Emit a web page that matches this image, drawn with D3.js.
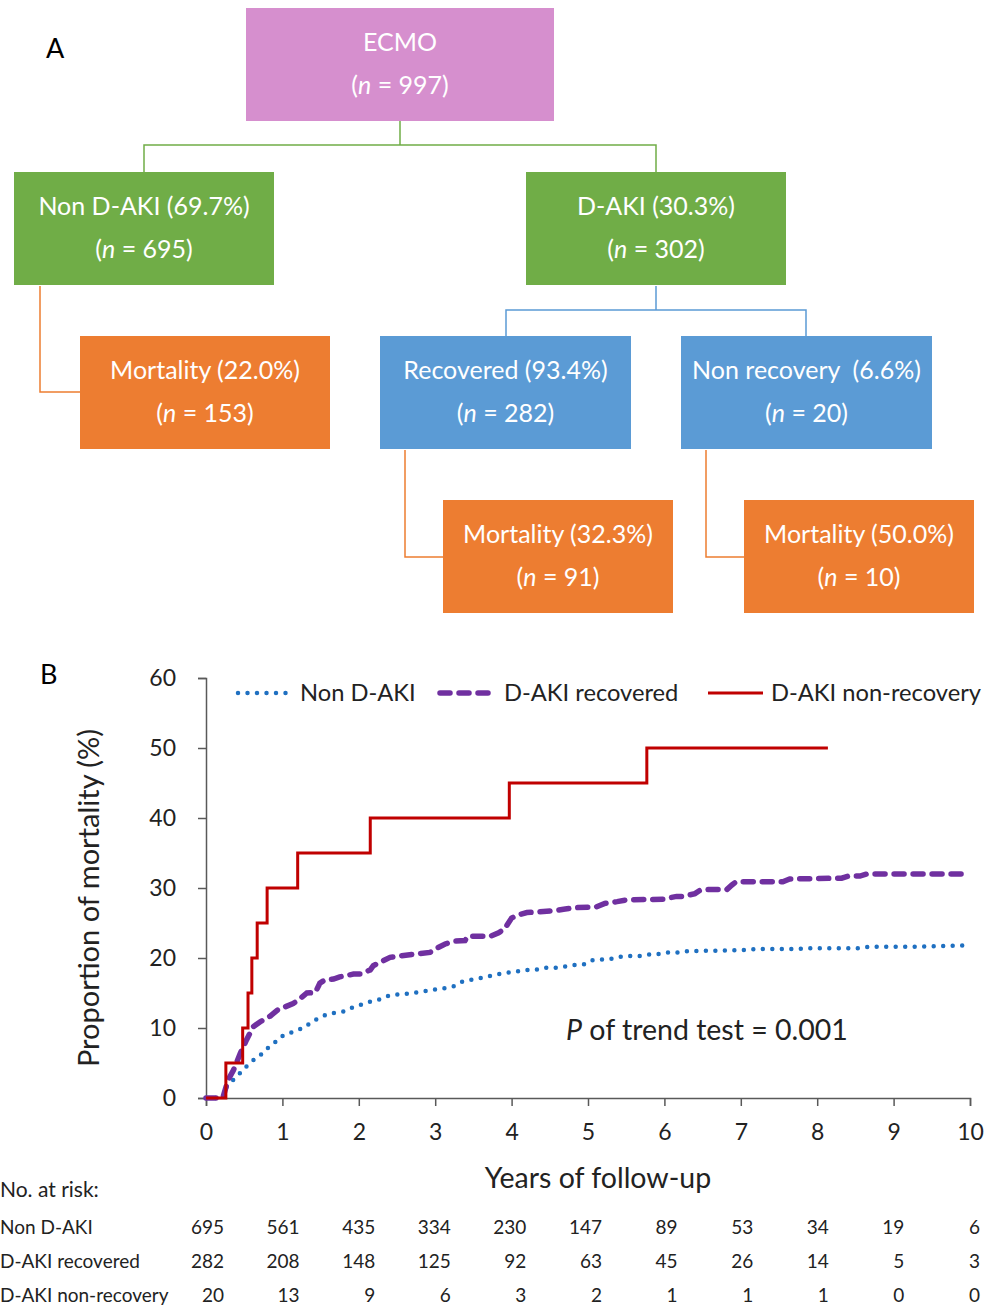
<!DOCTYPE html>
<html>
<head>
<meta charset="utf-8">
<script src="https://cdn.jsdelivr.net/npm/d3@7"></script>
<style>
  body { margin: 0; background: #fff; }
  svg { font-family: Lato, "Open Sans", sans-serif; }
</style>
</head>
<body>
<script>
var width = 1000,
    height = 1306;

// flowchart text
var boxTitles = ["ECMO", "Non D-AKI (69.7%)", "D-AKI (30.3%)", "Mortality (22.0%)",
                 "Recovered (93.4%)", "Non recovery  (6.6%)", "Mortality (32.3%)", "Mortality (50.0%)"];
var boxCounts = [997, 695, 302, 153, 282, 20, 91, 10];
var boxKinds = ["root", "group", "group", "death", "sub", "sub", "death", "death"];

// Kaplan-Meier style cumulative mortality (years, %)
var nonAkiT = [0, 0.22, 0.27, 0.35, 0.45, 0.53, 0.62, 0.71, 0.79, 0.88, 0.97, 1.08, 1.19, 1.3, 1.38, 1.48, 1.59, 1.71, 1.82, 1.93,
               2.05, 2.16, 2.28, 2.39, 2.5, 2.63, 2.76, 2.88, 3.0, 3.13, 3.25, 3.35, 3.47, 3.58, 3.7, 3.83, 3.94, 4.07, 4.19, 4.31,
               4.44, 4.57, 4.7, 4.82, 4.95, 5.06, 5.18, 5.31, 5.43, 5.55, 5.68, 5.81, 5.94, 6.06, 6.19, 6.32, 6.45, 6.58, 6.71, 6.85,
               6.98, 7.1, 7.24, 7.5, 7.76, 7.89, 8.55, 8.68, 9.2, 10];
var nonAkiV = [0, 0, 1.6, 2.5, 3.6, 4.5, 5.4, 6.1, 7.0, 7.7, 8.7, 9.2, 9.7, 10.1, 10.9, 11.4, 12.0, 12.2, 12.4, 13.0,
               13.4, 13.8, 14.1, 14.6, 14.8, 14.9, 15.1, 15.3, 15.5, 15.7, 16.0, 16.6, 16.9, 17.1, 17.4, 17.7, 17.9, 18.1, 18.3, 18.3,
               18.6, 18.6, 18.8, 19.0, 19.1, 19.7, 19.8, 19.9, 20.2, 20.3, 20.3, 20.5, 20.6, 20.8, 20.8, 21.0, 21.0, 21.05, 21.05, 21.1,
               21.1, 21.2, 21.3, 21.3, 21.3, 21.4, 21.4, 21.6, 21.6, 21.8];

var recT = [0, 0.22, 0.29, 0.36, 0.45, 0.53, 0.62, 0.71, 0.79, 0.84, 0.95, 1.03, 1.14, 1.21, 1.32, 1.43, 1.49, 1.56, 1.67, 1.75,
            1.93, 2.02, 2.15, 2.19, 2.3, 2.41, 2.54, 2.76, 2.93, 3.02, 3.13, 3.24, 3.39, 3.43, 3.72, 3.83, 3.91, 4.0, 4.07, 4.2,
            4.37, 4.59, 4.68, 4.85, 5.11, 5.22, 5.38, 5.51, 5.98, 6.16, 6.25, 6.4, 6.47, 6.6, 6.82, 6.88, 6.94, 7.55, 7.64, 8.32,
            8.41, 8.56, 8.65, 10];
var recV = [0, 0, 2.6, 4.0, 6.4, 8.3, 10.2, 10.9, 11.4, 11.7, 12.7, 13.0, 13.5, 14.0, 15.0, 15.05, 16.4, 16.9, 17.0, 17.3,
            17.7, 17.7, 18.3, 18.9, 19.5, 20.1, 20.3, 20.6, 20.8, 21.4, 22.0, 22.4, 22.5, 23.1, 23.1, 23.6, 24.2, 25.7, 26.1, 26.5,
            26.6, 26.8, 26.96, 27.2, 27.3, 27.8, 28.05, 28.3, 28.4, 28.8, 28.8, 29.2, 29.7, 29.8, 29.8, 30.4, 30.9, 30.9, 31.3, 31.4,
            31.7, 31.7, 32.0, 32.0];

// step times and levels for the 20 non-recovery patients
var nonRecT = [0, 0.26, 0.48, 0.55, 0.6, 0.67, 0.8, 1.2, 2.15, 3.97, 5.77, 8.14];
var nonRecV = [0, 5, 10, 15, 20, 25, 30, 35, 40, 45, 50, 50];

var seriesNames = ["Non D-AKI", "D-AKI recovered", "D-AKI non-recovery"];
var seriesColors = ["#1f70c1", "#7030a0", "#c00000"];

var xTicks = [0, 1, 2, 3, 4, 5, 6, 7, 8, 9, 10];
var yTicks = [0, 10, 20, 30, 40, 50, 60];

var riskNonAki = [695, 561, 435, 334, 230, 147, 89, 53, 34, 19, 6];
var riskRec = [282, 208, 148, 125, 92, 63, 45, 26, 14, 5, 3];
var riskNonRec = [20, 13, 9, 6, 3, 2, 1, 1, 1, 0, 0];

var svg = d3.select("body").append("svg")
    .attr("width", width)
    .attr("height", height);

// ---------- panel A: flowchart ----------
var kindColors = { root: "#d68fce", group: "#70ad47", death: "#ed7d31", sub: "#5b9bd5" };

// box layout: x, y (top-left); every box 113px tall
var layout = [
    { x: 246, y: 8, w: 308 },
    { x: 14, y: 172, w: 260 },
    { x: 526, y: 172, w: 260 },
    { x: 80, y: 336, w: 250 },
    { x: 380, y: 336, w: 251 },
    { x: 681, y: 336, w: 251 },
    { x: 443, y: 500, w: 230 },
    { x: 744, y: 500, w: 230 }
];
var boxH = 113;

svg.append("text")
    .attr("x", 46).attr("y", 58)
    .style("font-size", "27px")
    .text("A");

var connectors = [
    { d: "M400,121V145M144,172V145H656V172", color: "#70ad47" },
    { d: "M656,286V310M506,336V310H806V336", color: "#5b9bd5" },
    { d: "M40,286V392H80", color: "#ed7d31" },
    { d: "M405,450V557H443", color: "#ed7d31" },
    { d: "M706,450V557H744", color: "#ed7d31" }
];
svg.selectAll(".conn")
    .data(connectors)
    .enter().append("path")
    .attr("class", "conn")
    .attr("d", function (d) { return d.d; })
    .attr("fill", "none")
    .attr("stroke", function (d) { return d.color; })
    .attr("stroke-width", 1.5);

var box = svg.selectAll(".box")
    .data(boxTitles)
    .enter().append("g")
    .attr("class", "box")
    .attr("transform", function (d, i) { return "translate(" + layout[i].x + "," + layout[i].y + ")"; });

box.append("rect")
    .attr("width", function (d, i) { return layout[i].w; })
    .attr("height", boxH)
    .attr("fill", function (d, i) { return kindColors[boxKinds[i]]; });

box.append("text")
    .attr("x", function (d, i) { return layout[i].w / 2; })
    .attr("y", 34)
    .attr("dy", "0.35em")
    .attr("text-anchor", "middle")
    .attr("fill", "#fff")
    .style("font-size", "25px")
    .style("white-space", "pre")
    .text(function (d) { return d; });

var countText = box.append("text")
    .attr("x", function (d, i) { return layout[i].w / 2; })
    .attr("y", 77)
    .attr("dy", "0.35em")
    .attr("text-anchor", "middle")
    .attr("fill", "#fff")
    .style("font-size", "25px");
countText.append("tspan").text("(");
countText.append("tspan").style("font-style", "italic").text("n");
countText.append("tspan").text(function (d, i) { return " = " + boxCounts[i] + ")"; });

// ---------- panel B: cumulative mortality ----------
var x = d3.scaleLinear().domain([0, 10]).range([206, 970]);
var y = d3.scaleLinear().domain([0, 60]).range([1098, 678]);

svg.append("text")
    .attr("x", 40).attr("y", 684)
    .style("font-size", "27px")
    .text("B");

var axisColor = "#595959";

var yAxis = svg.append("g")
    .attr("transform", "translate(206,0)")
    .call(d3.axisLeft(y).tickValues(yTicks).tickSize(8).tickPadding(22));
var xAxis = svg.append("g")
    .attr("transform", "translate(0,1098)")
    .call(d3.axisBottom(x).tickValues(xTicks).tickSize(8).tickPadding(18));

[xAxis, yAxis].forEach(function (a) {
    a.select(".domain").attr("stroke", axisColor).attr("stroke-width", 1.5);
    a.selectAll(".tick line").attr("stroke", axisColor).attr("stroke-width", 1.5);
    a.selectAll(".tick text")
        .attr("fill", "#222")
        .style("font-family", "Lato, sans-serif")
        .style("font-size", "23px");
});

svg.append("text")
    .attr("transform", "translate(99,898) rotate(-90)")
    .attr("text-anchor", "middle")
    .style("font-size", "29px")
    .attr("fill", "#222")
    .text("Proportion of mortality (%)");

svg.append("text")
    .attr("x", 598).attr("y", 1188)
    .attr("text-anchor", "middle")
    .style("font-size", "28.5px")
    .attr("fill", "#222")
    .text("Years of follow-up");

var line = d3.line()
    .x(function (d) { return x(d[0]); })
    .y(function (d) { return y(d[1]); });
var stepLine = d3.line()
    .curve(d3.curveStepAfter)
    .x(function (d) { return x(d[0]); })
    .y(function (d) { return y(d[1]); });

svg.append("path")
    .datum(d3.zip(nonAkiT, nonAkiV))
    .attr("d", line)
    .attr("fill", "none")
    .attr("stroke", seriesColors[0])
    .attr("stroke-width", 4.5)
    .attr("stroke-linecap", "round")
    .attr("stroke-dasharray", "0,9.5");

svg.append("path")
    .datum(d3.zip(recT, recV))
    .attr("d", line)
    .attr("fill", "none")
    .attr("stroke", seriesColors[1])
    .attr("stroke-width", 5.5)
    .attr("stroke-linecap", "round")
    .attr("stroke-dasharray", "10,9");

svg.append("path")
    .datum(d3.zip(nonRecT, nonRecV))
    .attr("d", stepLine)
    .attr("fill", "none")
    .attr("stroke", seriesColors[2])
    .attr("stroke-width", 3);

// legend
var legendX = [236, 440, 708];
var legendStyles = [
    { w: 4.5, dash: "0,9.5", cap: "round" },
    { w: 5.5, dash: "10,9", cap: "round" },
    { w: 3, dash: null, cap: "butt" }
];
var legend = svg.selectAll(".legend")
    .data(seriesNames)
    .enter().append("g")
    .attr("class", "legend")
    .attr("transform", function (d, i) { return "translate(" + legendX[i] + ",693)"; });
legend.append("line")
    .attr("x1", function (d, i) { return i === 0 ? 2 : 0; })
    .attr("x2", 55)
    .attr("stroke", function (d, i) { return seriesColors[i]; })
    .attr("stroke-width", function (d, i) { return legendStyles[i].w; })
    .attr("stroke-linecap", function (d, i) { return legendStyles[i].cap; })
    .attr("stroke-dasharray", function (d, i) { return legendStyles[i].dash; });
legend.append("text")
    .attr("x", function (d, i) { return i === 2 ? 63 : 64; })
    .attr("dy", "0.35em")
    .style("font-size", "23.7px")
    .attr("fill", "#222")
    .text(function (d) { return d; });

var pText = svg.append("text")
    .attr("x", 566).attr("y", 1030)
    .attr("dy", "0.35em")
    .style("font-size", "28.5px")
    .attr("fill", "#222");
pText.append("tspan").style("font-style", "italic").text("P");
pText.append("tspan").text(" of trend test = 0.001");

// ---------- numbers at risk ----------
var riskX = d3.scaleLinear().domain([0, 10]).range([224, 980]);
var riskRows = [riskNonAki, riskRec, riskNonRec];
var riskY = [1227, 1261, 1295];

svg.append("text")
    .attr("x", 0).attr("y", 1190)
    .attr("dy", "0.35em")
    .style("font-size", "21px")
    .attr("fill", "#222")
    .text("No. at risk:");

riskRows.forEach(function (row, r) {
    svg.append("text")
        .attr("x", 0).attr("y", riskY[r])
        .attr("dy", "0.35em")
        .style("font-size", "19px")
        .attr("fill", "#222")
        .text(seriesNames[r]);
    svg.selectAll(".risk" + r)
        .data(row)
        .enter().append("text")
        .attr("class", "risk" + r)
        .attr("x", function (d, i) { return riskX(xTicks[i]); })
        .attr("y", riskY[r])
        .attr("dy", "0.35em")
        .attr("text-anchor", "end")
        .style("font-size", "19px")
        .attr("fill", "#222")
        .text(function (d) { return d; });
});
</script>
</body>
</html>
